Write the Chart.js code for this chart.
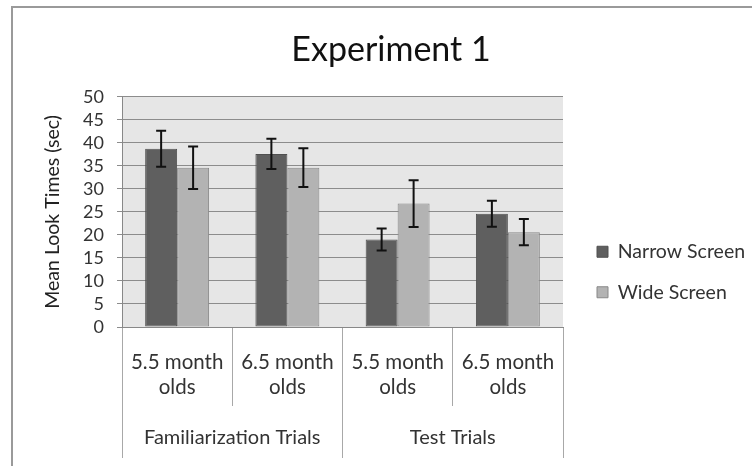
<!DOCTYPE html>
<html>
<head>
<meta charset="utf-8">
<script src="https://cdn.jsdelivr.net/npm/chart.js@4.4.0/dist/chart.umd.min.js"></script>
<style>
  body { margin: 0; background: #fff; }
  #wrap { position: relative; width: 752px; height: 466px; }
  #frame { position: absolute; left: 11px; top: 6px; right: 0; bottom: 0; border-top: 2px solid #9a9a9a; border-left: 2px solid #9a9a9a; }
  #c { position: absolute; left: 0; top: 0; }
</style>
</head>
<body>
<div id="wrap">
  <div id="frame"></div>
  <canvas id="c" width="752" height="466"></canvas>
</div>
<script>
const categories = [['5.5 month', 'olds'], ['6.5 month', 'olds'], ['5.5 month', 'olds'], ['6.5 month', 'olds']];
const groups = ['Familiarization Trials', 'Test Trials'];
const narrowMeans = [38.7, 37.6, 19.0, 24.6];
const narrowErr = [3.9, 3.3, 2.4, 2.8];
const wideMeans = [34.6, 34.6, 26.8, 20.6];
const wideErr = [4.6, 4.2, 5.1, 2.85];

const FONT = 'Lato';

// gray plot background
const plotBg = {
    id: 'plotBg',
    beforeDraw(chart) {
        const {ctx, chartArea} = chart;
        ctx.save();
        ctx.fillStyle = '#e6e6e6';
        ctx.fillRect(chartArea.left, chartArea.top, chartArea.width, chartArea.height);
        ctx.restore();
    }
};

// error bars on top of each bar
const errorBars = {
    id: 'errorBars',
    afterDatasetsDraw(chart) {
        const {ctx} = chart;
        const y = chart.scales.y;
        ctx.save();
        ctx.strokeStyle = '#111';
        ctx.lineWidth = 2;
        chart.data.datasets.forEach((ds, d) => {
            chart.getDatasetMeta(d).data.forEach((bar, i) => {
                const top = y.getPixelForValue(ds.data[i] + ds.errors[i]);
                const bot = y.getPixelForValue(ds.data[i] - ds.errors[i]);
                ctx.beginPath();
                ctx.moveTo(bar.x, top);
                ctx.lineTo(bar.x, bot);
                ctx.moveTo(bar.x - 5, top);
                ctx.lineTo(bar.x + 5, top);
                ctx.moveTo(bar.x - 5, bot);
                ctx.lineTo(bar.x + 5, bot);
                ctx.stroke();
            });
        });
        ctx.restore();
    }
};

new Chart(document.getElementById('c'), {
    type: 'bar',
    data: {
        labels: categories,
        datasets: [{
            label: 'Narrow Screen',
            data: narrowMeans,
            errors: narrowErr,
            backgroundColor: '#5f5f5f',
            borderColor: '#505050',
            borderWidth: 1,
            borderSkipped: false,
            categoryPercentage: 0.58,
            barPercentage: 1
        }, {
            label: 'Wide Screen',
            data: wideMeans,
            errors: wideErr,
            backgroundColor: '#b3b3b3',
            borderColor: '#888888',
            borderWidth: 1,
            borderSkipped: false,
            categoryPercentage: 0.58,
            barPercentage: 1
        }]
    },
    options: {
        responsive: false,
        animation: false,
        layout: {
            padding: {top: 8, left: 30, right: 0, bottom: 8}
        },
        plugins: {
            title: {
                display: true,
                text: 'Experiment 1',
                color: '#111',
                font: {family: FONT, size: 34, weight: 'normal'},
                padding: {top: 22, bottom: 26}
            },
            legend: {
                position: 'right',
                maxWidth: 176,
                title: {
                    // empty title only pushes the items down
                    display: true,
                    text: '',
                    font: {size: 10},
                    padding: 33
                },
                labels: {
                    color: '#333',
                    font: {family: FONT, size: 19.5},
                    boxWidth: 11,
                    boxHeight: 11,
                    padding: 21
                }
            },
            tooltip: {enabled: false}
        },
        scales: {
            x: {
                position: 'bottom',
                grid: {drawOnChartArea: false, color: '#a8a8a8', tickLength: 79, offset: true},
                border: {color: '#888'},
                ticks: {
                    color: '#333',
                    font: {family: FONT, size: 20.5, lineHeight: '25px'},
                    padding: -56.5,
                    maxRotation: 0
                },
                afterFit(s) { s.height = 79; }
            },
            x2: {
                type: 'category',
                position: 'bottom',
                labels: groups,
                offset: true,
                grid: {drawOnChartArea: false, color: '#a8a8a8', tickLength: 52, offset: true},
                border: {display: false},
                ticks: {
                    color: '#333',
                    font: {family: FONT, size: 20, lineHeight: '25px'},
                    padding: -32.5,
                    maxRotation: 0
                },
                afterFit(s) { s.height = 52; }
            },
            y: {
                min: 0,
                max: 50,
                ticks: {
                    stepSize: 5,
                    autoSkip: false,
                    color: '#333',
                    font: {family: FONT, size: 18},
                    padding: 13
                },
                grid: {color: '#8c8c8c', tickLength: 5},
                border: {color: '#888'},
                title: {
                    display: true,
                    text: 'Mean Look Times (sec)',
                    color: '#222',
                    font: {family: FONT, size: 19.5},
                    padding: {top: 11}
                },
                afterFit(s) { s.width = 92; }
            },
            gap: {
                position: 'right',
                display: true,
                grid: {display: false},
                border: {display: false},
                ticks: {display: false},
                afterFit(s) { s.width = 13; }
            }
        }
    },
    plugins: [plotBg, errorBars]
});
</script>
</body>
</html>
